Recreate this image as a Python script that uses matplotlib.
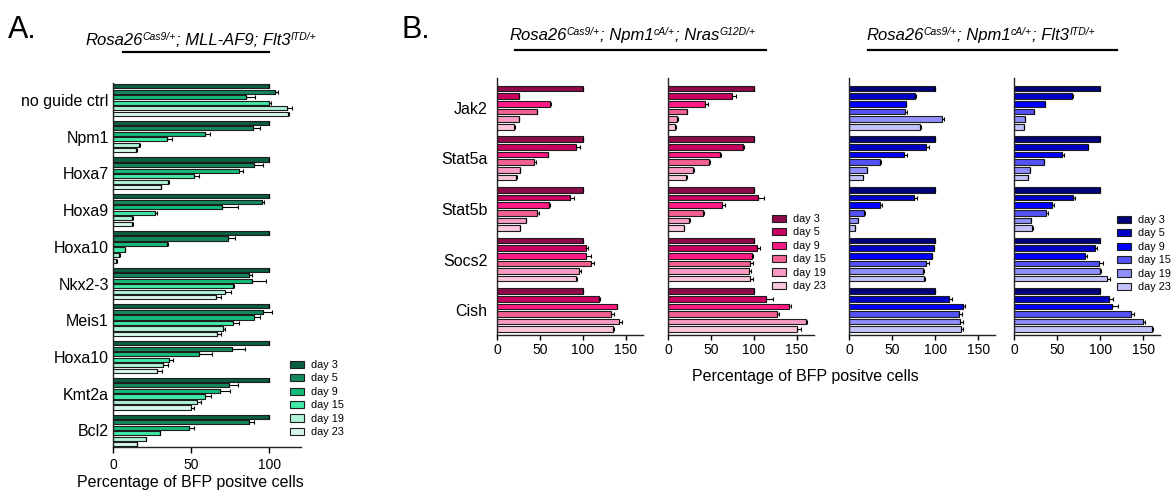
import numpy as np
import matplotlib.pyplot as plt

plt.rcParams['font.family'] = ['Liberation Sans', 'DejaVu Sans']

days = ['day 3', 'day 5', 'day 9', 'day 15', 'day 19', 'day 23']

# panel A: Rosa26 Cas9; MLL-AF9; Flt3 ITD  (rows = guides, cols = days)
genes_a = ['no guide ctrl', 'Npm1', 'Hoxa7', 'Hoxa9', 'Hoxa10',
           'Nkx2-3', 'Meis1', 'Hoxa10', 'Kmt2a', 'Bcl2']
vals_a = [[100, 103.8, 84.9, 100, 111.5, 112.0],
          [100, 89.4, 58.5, 34.5, 16.8, 14.7],
          [100, 90.4, 80.4, 51.5, 35.1, 30.4],
          [100, 95.1, 69.6, 26.6, 12.1, 12.1],
          [100, 73.4, 34.5, 7.4, 4.0, 2.1],
          [100, 87.2, 88.7, 77.0, 71.9, 65.7],
          [100, 96.2, 90.4, 76.4, 70.2, 66.4],
          [100, 76.0, 55.3, 35.5, 31.9, 28.1],
          [100, 74.0, 68.5, 58.5, 53.6, 49.8],
          [100, 87.2, 48.9, 29.8, 21.1, 15.3]]
err_a = [[0, 1.5, 6.0, 1.0, 2.8, 0.5],
         [0, 4.3, 3.6, 3.4, 0.5, 0.8],
         [0, 5.3, 3.0, 3.2, 0.5, 0.5],
         [0, 1.7, 10.2, 1.5, 0.5, 0.5],
         [0, 4.3, 0.5, 0.5, 0.3, 0.3],
         [0, 1.5, 8.9, 0.6, 3.4, 3.2],
         [0, 5.7, 3.6, 4.3, 1.1, 2.6],
         [0, 8.1, 8.1, 2.6, 3.0, 3.0],
         [0, 6.2, 6.0, 4.3, 2.8, 1.7],
         [0, 3.0, 3.0, 0.4, 0.3, 0.3]]

# panel B
genes_b = ['Jak2', 'Stat5a', 'Stat5b', 'Socs2', 'Cish']

# Npm1 cA; Nras G12D - replicate 1
vals_nras1 = [[100, 25.6, 62.0, 46.5, 25.6, 20.2],
              [100, 91.9, 58.9, 43.4, 26.4, 22.5],
              [100, 85.3, 60.9, 46.5, 33.3, 26.7],
              [100, 103.5, 103.5, 109.7, 95.7, 92.2],
              [100, 119.0, 139.5, 132.6, 142.2, 134.9]]
err_nras1 = [[0, 0.5, 0.5, 0.5, 0.5, 0.5],
             [0, 4.3, 0.5, 1.9, 0.5, 0.5],
             [0, 3.9, 1.0, 2.3, 0.5, 0.5],
             [0, 2.7, 5.4, 3.5, 2.3, 1.2],
             [0, 0.5, 0.5, 3.9, 3.1, 1.9]]

# Npm1 cA; Nras G12D - replicate 2
vals_nras2 = [[100, 75.1, 43.2, 22.2, 10.9, 8.6],
              [100, 86.8, 60.3, 47.9, 29.2, 21.4],
              [100, 104.3, 63.4, 40.9, 24.1, 18.7],
              [100, 103.1, 97.3, 95.3, 94.2, 95.3],
              [100, 113.6, 141.2, 126.8, 160.7, 150.2]]
err_nras2 = [[0, 3.9, 3.1, 0.5, 0.5, 0.5],
             [0, 2.0, 1.0, 1.0, 1.0, 0.5],
             [0, 7.8, 3.1, 1.0, 1.0, 0.5],
             [0, 4.3, 2.0, 3.9, 2.0, 3.1],
             [0, 8.2, 2.3, 2.3, 1.6, 4.7]]

# Npm1 cA; Flt3 ITD - replicate 1
vals_flt1 = [[100, 76.8, 66.0, 64.5, 108.1, 82.6],
             [100, 89.6, 63.7, 36.3, 20.5, 15.4],
             [100, 75.3, 36.3, 17.4, 10.4, 6.9],
             [100, 98.1, 96.1, 89.2, 85.3, 87.3],
             [100, 116.6, 132.0, 127.4, 129.3, 130.5]]
err_flt1 = [[0, 0.5, 0.5, 3.1, 2.7, 0.5],
            [0, 2.7, 3.5, 0.5, 0.5, 0.5],
            [0, 3.1, 1.9, 0.3, 0.3, 0.3],
            [0, 0.5, 0.5, 3.1, 1.5, 0.5],
            [0, 2.7, 3.1, 3.5, 2.7, 2.3]]

# Npm1 cA; Flt3 ITD - replicate 2
vals_flt2 = [[100, 67.3, 35.4, 22.6, 12.5, 11.3],
             [100, 85.6, 55.6, 34.6, 18.3, 15.6],
             [100, 68.5, 44.4, 36.6, 19.1, 21.0],
             [100, 94.2, 82.9, 98.8, 100.0, 107.8],
             [100, 109.7, 113.6, 135.8, 149.4, 160.3]]
err_flt2 = [[0, 0.5, 0.5, 0.5, 0.5, 0.5],
            [0, 0.5, 2.7, 0.5, 0.5, 0.5],
            [0, 1.9, 2.3, 3.1, 0.5, 0.5],
            [0, 1.9, 1.6, 4.3, 0.5, 3.1],
            [0, 5.8, 6.6, 3.1, 3.1, 0.8]]

# genotype headers: (text, superscript?) pieces
sub_a = [('Rosa26', False), ('Cas9/+', True), ('; MLL-AF9; Flt3', False), ('ITD/+', True)]
sub_b1 = [('Rosa26', False), ('Cas9/+', True), ('; Npm1', False), ('cA/+', True),
          ('; Nras', False), ('G12D/+', True)]
sub_b2 = [('Rosa26', False), ('Cas9/+', True), ('; Npm1', False), ('cA/+', True),
          ('; Flt3', False), ('ITD/+', True)]

greens = ['#0c5e40', '#14895b', '#15bb79', '#3feaa6', '#b0f3d6', '#d6f9ea']
pinks = ['#8e0a4a', '#c8005f', '#ff1a85', '#f26191', '#f89cc3', '#fcc7dd']
blues = ['#00007a', '#0000c8', '#0000ff', '#5252f5', '#8f8fff', '#c3c3fa']

W, H = 1174, 497
fig = plt.figure(figsize=(W / 100, H / 100), dpi=100)
PITCH = 6.65


def add_ax(l, t, r, b):
    return fig.add_axes([l / W, 1 - b / H, (r - l) / W, (b - t) / H])


def draw(ax, vals, errs, colors, labels=None):
    vals = np.array(vals)
    errs = np.array(errs)
    n = vals.shape[0]
    for j in range(vals.shape[1]):
        y = np.arange(n) * PITCH + j + 0.5
        ax.barh(y, vals[:, j], height=0.74, color=colors[j], edgecolor='#1e1e1e',
                linewidth=0.8, label=days[j], zorder=2)
        ax.errorbar(vals[:, j], y, xerr=[np.zeros(n), errs[:, j]], fmt='none',
                    ecolor='black', elinewidth=0.8, capsize=1.2, capthick=0.8, zorder=3)
    for s in ['top', 'right']:
        ax.spines[s].set_visible(False)
    for s in ['left', 'bottom']:
        ax.spines[s].set_linewidth(1.0)
        ax.spines[s].set_color('#222222')
    if labels is not None:
        ax.set_yticks(np.arange(n) * PITCH + 3)
        ax.set_yticklabels(labels)
    else:
        ax.set_yticks([])


def header(x, y, parts, size=12):
    r = fig.canvas.get_renderer()
    for txt, sup in parts:
        yy = y - 5 if sup else y
        t = fig.text(x / W, 1 - yy / H, txt, fontsize=size * 0.62 if sup else size,
                     style='italic', va='baseline', ha='left')
        x += t.get_window_extent(renderer=r).width + (0.5 if sup else 0)


def day_legend(ax, left, top):
    ax.legend(loc='upper left', bbox_to_anchor=(left / W, 1 - top / H),
              bbox_transform=fig.transFigure, frameon=False, fontsize=7.8,
              handlelength=1.3, handleheight=0.65, labelspacing=0.32,
              handletextpad=0.6, borderpad=0, borderaxespad=0)


# panel A
axA = add_ax(113, 83, 300.7, 447)
draw(axA, vals_a, err_a, greens, genes_a)
axA.set_ylim(9 * PITCH + 6, -0.05)
axA.set_xlim(0, 120)
axA.set_xticks([0, 50, 100])
axA.tick_params(axis='y', length=0, pad=3, labelsize=11.5)
axA.tick_params(axis='x', length=4.5, width=1.0, pad=3.5, labelsize=10)
day_legend(axA, 290, 360)

# panel B
b_axes = [(497, vals_nras1, err_nras1, pinks, genes_b),
          (668, vals_nras2, err_nras2, pinks, None),
          (849.3, vals_flt1, err_flt1, blues, None),
          (1014.3, vals_flt2, err_flt2, blues, None)]
axes_b = []
for l, v, e, c, lab in b_axes:
    ax = add_ax(l, 78, l + 146, 335)
    draw(ax, v, e, c, lab)
    ax.set_ylim(4 * PITCH + 6 + 0.25, -0.9)
    ax.set_xlim(0, 170)
    ax.set_xticks([0, 50, 100, 150])
    ax.tick_params(axis='y', length=0, pad=7, labelsize=11.5)
    ax.tick_params(axis='x', length=3.5, width=1.0, pad=2, labelsize=10)
    axes_b.append(ax)

day_legend(axes_b[1], 772, 214)
day_legend(axes_b[3], 1117, 215)

# labels and headers
fig.text(190 / W, 1 - 482 / H, 'Percentage of BFP positve cells', ha='center',
         va='center', fontsize=11.5)
fig.text(805 / W, 1 - 377 / H, 'Percentage of BFP positve cells', ha='center',
         va='center', fontsize=11.5)

fig.text(8 / W, 1 - 38 / H, 'A.', fontsize=22, va='baseline')
fig.text(402 / W, 1 - 38 / H, 'B.', fontsize=22, va='baseline')

header(85, 45, sub_a)
header(509, 40, sub_b1)
header(866, 40, sub_b2)

for x0, x1, yy in [(123, 269, 52), (515, 766, 50), (868, 1117, 50)]:
    fig.add_artist(plt.Line2D([x0 / W, x1 / W], [1 - yy / H, 1 - yy / H],
                              color='black', linewidth=1.6))

fig.savefig('out.png', dpi=100)
